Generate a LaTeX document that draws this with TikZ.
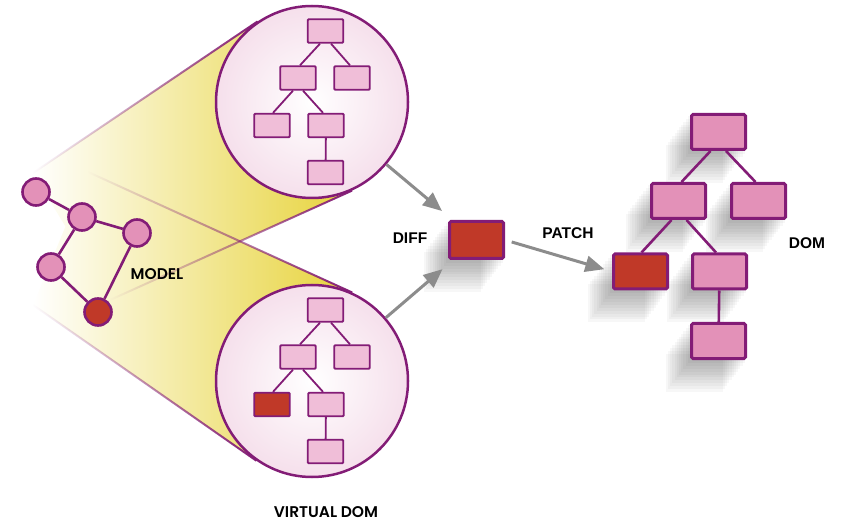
\documentclass[tikz,border=0pt]{standalone}
\usepackage{fontspec}
\setmainfont{Liberation Sans}
\newfontfamily\geofont{Poppins}[BoldFont={Poppins SemiBold}]
\usetikzlibrary{arrows.meta,calc,fadings,backgrounds}

\definecolor{plum}{RGB}{131,28,118}
\definecolor{rosebox}{RGB}{227,145,184}
\definecolor{palebox}{RGB}{240,190,216}
\definecolor{lensrim}{RGB}{236,192,216}
\definecolor{patchred}{RGB}{192,57,40}
\definecolor{beam}{RGB}{231,211,58}
\definecolor{arrowgray}{RGB}{140,140,140}

\pgfdeclareradialshading{lensglow}{\pgfpoint{0bp}{0bp}}{color(0bp)=(white); color(50bp)=(lensrim)}
\tikzfading[name=beamfade,left color=transparent!100,middle color=transparent!25,right color=transparent!0]

% long shadow behind a box, down and to the left
\newcommand\longshadow[1]{%
  \foreach \n in {1,...,11}
    \fill[black,opacity=0.03] ([shift={(-2.2*\n,2.9*\n)}]#1.south west) rectangle ([shift={(-2.2*\n,2.9*\n)}]#1.north east);}

\begin{document}
\begin{tikzpicture}[x=1pt,y=-1pt,
  lens/.style={circle,draw=plum,line width=2.5pt,shade,shading=lensglow,minimum size=192pt,inner sep=0pt},
  leaf/.style={draw=plum,line width=1.8pt,fill=palebox,rounded corners=1pt,minimum width=35.5pt,minimum height=23.5pt,inner sep=0pt},
  hotleaf/.style={leaf,fill=patchred},
  page/.style={draw=plum,line width=3pt,fill=rosebox,rounded corners=1.5pt,minimum width=54pt,minimum height=35pt,inner sep=0pt},
  hotpage/.style={page,fill=patchred},
  atom/.style={circle,draw=plum,line width=2.6pt,fill=rosebox,minimum size=27pt,inner sep=0pt},
  hotatom/.style={atom,fill=patchred},
  twig/.style={draw=plum,line width=1.8pt},
  link/.style={draw=plum,line width=2.6pt},
  flow/.style={draw=arrowgray,line width=3pt,-{Triangle[length=19pt,width=16pt]}},
  beamedge/.style={draw=plum,line width=2pt,path fading=beamfade},
  tag/.style={font=\bfseries\fontsize{15.5}{18}\selectfont},
  geotag/.style={font=\geofont\bfseries\fontsize{15.5}{18}\selectfont}]
% Bounding box
\useasboundingbox (0,0) rectangle (848,526);
% Lenses
\node[lens] (vtop) at (312,102) {};
\node[lens] (vbot) at (312,381) {};
% Tree in the upper lens
\node[leaf] (t0) at (325.5,31) {};
\node[leaf] (t1) at (298,78) {};
\node[leaf] (t2) at (352,78) {};
\node[leaf] (t3) at (272,125.5) {};
\node[leaf] (t4) at (326,125.5) {};
\node[leaf] (t5) at (325.5,172.5) {};
\draw[twig] ([xshift=-5.5pt]t0.south) -- ([xshift=2pt]t1.north);
\draw[twig] ([xshift=5.5pt]t0.south) -- ([xshift=-2pt]t2.north);
\draw[twig] ([xshift=-5pt]t1.south) -- ([xshift=1pt]t3.north);
\draw[twig] ([xshift=5pt]t1.south) -- ([xshift=-3pt]t4.north);
\draw[twig] (t4) -- (t5);
% Tree in the lower lens
\node[leaf] (u0) at (325.5,310) {};
\node[leaf] (u1) at (298,357) {};
\node[leaf] (u2) at (352,357) {};
\node[hotleaf] (u3) at (272,404.5) {};
\node[leaf] (u4) at (326,404.5) {};
\node[leaf] (u5) at (325.5,451.5) {};
\draw[twig] ([xshift=-5.5pt]u0.south) -- ([xshift=2pt]u1.north);
\draw[twig] ([xshift=5.5pt]u0.south) -- ([xshift=-2pt]u2.north);
\draw[twig] ([xshift=-5pt]u1.south) -- ([xshift=1pt]u3.north);
\draw[twig] ([xshift=5pt]u1.south) -- ([xshift=-3pt]u4.north);
\draw[twig] (u4) -- (u5);
% Model
\node[atom] (m1) at (36,192) {};
\node[atom] (m2) at (82,217) {};
\node[atom] (m3) at (137,233) {};
\node[atom] (m4) at (51,267) {};
\node[hotatom] (m5) at (98,312) {};
\draw[link] (m1) -- (m2);
\draw[link] (m2) -- (m3);
\draw[link] (m2) -- (m4);
\draw[link] (m4) -- (m5);
\draw[link] (m3) -- (m5);
\node[geotag] (modellabel) at (157,274) {MODEL};
% Diff
\node[hotpage,minimum height=37pt] (diff) at (476.5,240) {};
\node[tag] (difflabel) at (410,238) {DIFF};
\draw[flow,shorten >=14pt] (vtop) -- (diff);
\draw[flow,shorten >=14pt] (vbot) -- (diff);
% DOM
\node[page] (d0) at (718.5,132) {};
\node[page] (d1) at (678.5,201) {};
\node[page] (d2) at (758.5,201) {};
\node[hotpage] (d3) at (640.5,271.5) {};
\node[page] (d4) at (719.5,271.5) {};
\node[page] (d5) at (718.5,341) {};
\draw[link] ([xshift=-8pt]d0.south) -- ([xshift=3pt]d1.north);
\draw[link] ([xshift=7.5pt]d0.south) -- ([xshift=-3pt]d2.north);
\draw[link] ([xshift=-7pt]d1.south) -- ([xshift=1pt]d3.north);
\draw[link] ([xshift=8pt]d1.south) -- ([xshift=-3.5pt]d4.north);
\draw[link] (d4) -- (d5);
\node[tag] (domlabel) at (807,243) {DOM};
% Patch
\node[tag] (patchlabel) at (568,233) {PATCH};
\draw[flow,shorten <=7pt,shorten >=8pt] (diff.east) -- (d3.west);
% Virtual DOM
\node[geotag] (vdomlabel) at (326,512) {VIRTUAL DOM};
% Beams and shadows
\begin{scope}[on background layer]
\coordinate (b1) at (33,173);
\coordinate (b2) at (110,300);
\coordinate (b3) at (88,172);
\coordinate (b4) at (33,305);
\coordinate (g1) at (tangent cs:node=vtop,point={(b1)},solution=2);
\coordinate (g2) at (tangent cs:node=vtop,point={(b2)},solution=1);
\coordinate (g3) at (tangent cs:node=vbot,point={(b3)},solution=2);
\coordinate (g4) at (tangent cs:node=vbot,point={(b4)},solution=1);
\shade[left color=white,middle color=beam!70,right color=beam] (b1) -- (g1) -- (vtop.center) -- (g2) -- (b2) -- cycle;
\shade[left color=white,middle color=beam!70,right color=beam] (b3) -- (g3) -- (vbot.center) -- (g4) -- (b4) -- cycle;
\draw[beamedge] (b1) -- (g1);
\draw[beamedge] (b2) -- (g2);
\draw[beamedge] (b3) -- (g3);
\draw[beamedge] (b4) -- (g4);
\longshadow{diff}
\longshadow{d0}
\longshadow{d1}
\longshadow{d2}
\longshadow{d3}
\longshadow{d4}
\longshadow{d5}
\end{scope}
\end{tikzpicture}
\end{document}
